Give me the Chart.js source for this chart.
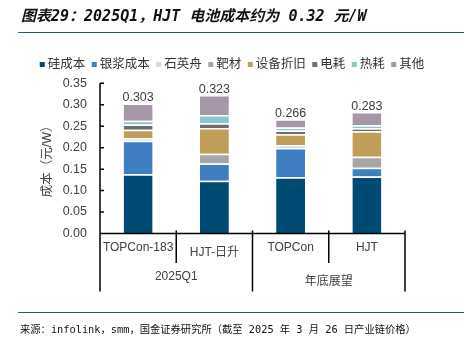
<!DOCTYPE html>
<html>
<head>
<meta charset="utf-8">
<script src="https://cdn.jsdelivr.net/npm/chart.js@4.4.1/dist/chart.umd.min.js"></script>
<style>
  body { margin: 0; background: #fff; }
  #wrap { position: relative; width: 464px; height: 345px; overflow: hidden; }
  #title { position: absolute; left: 21px; top: 5px; font: italic bold 15px "DejaVu Sans Mono", "Noto Sans CJK SC"; line-height: 22px; color: #111; white-space: nowrap; }
  .rule { position: absolute; left: 18px; right: 0; height: 1.5px; background: #1f5a8e; }
  #source { position: absolute; left: 20px; top: 320px; font: 10.3px "DejaVu Sans Mono", "Noto Sans CJK SC"; line-height: 18px; color: #111; white-space: nowrap; }
  canvas { position: absolute; left: 0; top: 0; }
</style>
</head>
<body>
<div id="wrap">
  <canvas id="chart" width="464" height="345"></canvas>
  <div id="title">图表29：2025Q1，HJT 电池成本约为 0.32 元/W</div>
  <div class="rule" style="top:31.5px"></div>
  <div class="rule" style="top:311.5px"></div>
  <div id="source">来源：infolink，smm，国金证券研究所（截至 2025 年 3 月 26 日产业链价格）</div>
</div>
<script>
// 数据（元/W）
var categories = ["TOPCon-183", "HJT-日升", "TOPCon", "HJT"];
var groupLabels = ["2025Q1", "年底展望"];
var groupSpans = [2, 2];
var totals = [0.303, 0.323, 0.266, 0.283];

var siliconCost = [0.138, 0.123, 0.131, 0.133];
var silverPaste = [0.078, 0.040, 0.068, 0.020];
var quartzBoat = [0.006, 0, 0.007, 0];
var targetMaterial = [0, 0.023, 0, 0.026];
var depreciation = [0.020, 0.060, 0.025, 0.059];
var powerUse = [0.012, 0.011, 0.009, 0.007];
var heatUse = [0.009, 0.019, 0.007, 0.007];
var otherCost = [0.040, 0.047, 0.019, 0.031];

var FONT = "'Liberation Sans', 'Noto Sans CJK SC', sans-serif";
var TEXT = "#404040";

function segment(label, data, color) {
  return {
    label: label,
    data: data,
    backgroundColor: color,
    borderColor: "#ffffff",
    borderWidth: { top: 1.5, right: 0, bottom: 0, left: 0 },
    borderSkipped: "start",
    categoryPercentage: 1,
    barPercentage: 0.38
  };
}

// Легенда одной строкой (мелкие квадраты)
var legendPlugin = {
  id: "legendRow",
  afterDraw: function (chart) {
    var ctx = chart.ctx;
    var items = chart.data.datasets;
    ctx.save();
    ctx.font = "12.5px " + FONT;
    ctx.textBaseline = "middle";
    var total = 0;
    items.forEach(function (ds) { total += 8 + ctx.measureText(ds.label).width; });
    total += 6.5 * (items.length - 1);
    var x = chart.width / 2 - total / 2;
    var y = 65;
    items.forEach(function (ds) {
      ctx.fillStyle = ds.backgroundColor;
      ctx.fillRect(x, y - 3, 5, 5);
      x += 8;
      ctx.fillStyle = "#333";
      ctx.fillText(ds.label, x, y);
      x += ctx.measureText(ds.label).width + 6.5;
    });
    ctx.restore();
  }
};

// Оси, разделители категорий, подписи и итоги над столбцами
var axesPlugin = {
  id: "axesAndLabels",
  afterDraw: function (chart) {
    var ctx = chart.ctx, area = chart.chartArea;
    var xs = chart.scales.x, ys = chart.scales.y;
    var step = xs.getPixelForValue(1) - xs.getPixelForValue(0);
    ctx.save();
    ctx.strokeStyle = "#000";
    ctx.lineWidth = 1.5;
    ctx.beginPath();
    ctx.moveTo(area.left, area.top);
    ctx.lineTo(area.left, area.bottom);
    ys.ticks.forEach(function (t) {
      var py = ys.getPixelForValue(t.value);
      ctx.moveTo(area.left, py);
      ctx.lineTo(area.left + 4, py);
    });
    ctx.moveTo(area.left, area.bottom);
    ctx.lineTo(area.right, area.bottom);

    var edges = [0];
    groupSpans.forEach(function (s) { edges.push(edges[edges.length - 1] + s); });
    for (var i = 0; i <= categories.length; i++) {
      var px = xs.getPixelForValue(0) + (i - 0.5) * step;
      var long = edges.indexOf(i) >= 0;
      ctx.moveTo(px, area.bottom - 3);
      ctx.lineTo(px, area.bottom + (long ? 58 : 29.5));
    }
    ctx.stroke();

    ctx.fillStyle = TEXT;
    ctx.textAlign = "center";
    ctx.textBaseline = "middle";
    ctx.font = "12px " + FONT;
    var cjk = /[\u4e00-\u9fff]/;
    categories.forEach(function (c, i) {
      ctx.fillText(c, xs.getPixelForValue(i), area.bottom + (cjk.test(c) ? 19 : 14));
    });
    groupLabels.forEach(function (g, k) {
      var mid = xs.getPixelForValue(0) + (edges[k] + edges[k + 1] - 1) / 2 * step;
      ctx.fillText(g, mid, area.bottom + (cjk.test(g) ? 48.5 : 43));
    });

    ctx.font = "12.5px " + FONT;
    ctx.textBaseline = "alphabetic";
    totals.forEach(function (v, i) {
      ctx.fillText(v.toFixed(3), xs.getPixelForValue(i), ys.getPixelForValue(v) - 2);
    });
    ctx.restore();
  }
};

var ctx = document.getElementById("chart").getContext("2d");
var chart = new Chart(ctx, {
  type: "bar",
  data: {
    labels: categories,
    datasets: [
      segment("硅成本", siliconCost, "#004b73"),
      segment("银浆成本", silverPaste, "#3f7fc1"),
      segment("石英舟", quartzBoat, "#c6dff2"),
      segment("靶材", targetMaterial, "#a6a6a6"),
      segment("设备折旧", depreciation, "#c19d5a"),
      segment("电耗", powerUse, "#6e6e6e"),
      segment("热耗", heatUse, "#8cc6ce"),
      segment("其他", otherCost, "#a697a8")
    ]
  },
  options: {
    responsive: false,
    animation: false,
    devicePixelRatio: 1,
    layout: { padding: { left: 36.5, right: 59, top: 83.3, bottom: 0 } },
    plugins: {
      legend: { display: false },
      tooltip: { enabled: false }
    },
    scales: {
      x: {
        stacked: true,
        ticks: { display: false },
        grid: { display: false, drawTicks: false },
        border: { display: false },
        afterFit: function (scale) { scale.height = 111.5; }
      },
      y: {
        stacked: true,
        min: 0,
        max: 0.35,
        ticks: {
          stepSize: 0.05,
          padding: 13,
          color: TEXT,
          font: { family: FONT, size: 12.5 },
          callback: function (v) { return v.toFixed(2); }
        },
        grid: { display: false, drawTicks: false },
        border: { display: false },
        title: {
          display: true,
          text: "成本（元/W）",
          color: TEXT,
          font: { family: FONT, size: 12.5 },
          padding: { top: 4, bottom: 0 }
        },
        afterFit: function (scale) { scale.width = 63.5; }
      }
    }
  },
  plugins: [legendPlugin, axesPlugin]
});
</script>
</body>
</html>
